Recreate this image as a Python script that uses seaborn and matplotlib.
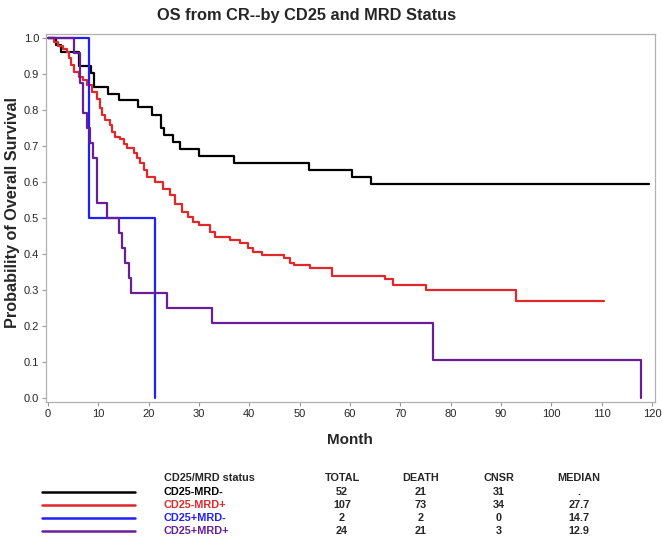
import matplotlib
matplotlib.use("Agg")
import matplotlib.pyplot as plt
from matplotlib.lines import Line2D
import numpy as np
import pandas as pd
import seaborn as sns


# Kaplan-Meier step points (month, survival)
GROUPS = ["CD25-MRD-", "CD25-MRD+", "CD25+MRD-", "CD25+MRD+"]
COLORS = ["#000000", "#e0282a", "#1f1fff", "#6a1d98"]

black_t = [0, 1.6, 2.6, 6.2, 8.5, 9.1, 11.9, 14.2, 17.9, 20.6, 22.4, 23.0,
           24.8, 26.2, 29.9, 37.0, 51.8, 60.4, 64.2, 119.5]
black_s = [1.0, .981, .962, .923, .904, .865, .846, .827, .808, .788, .750, .731,
           .712, .692, .673, .654, .635, .615, .594, .594]

red_t = [0, 1.1, 2.0, 3.0, 3.7, 4.2, 4.6, 5.2, 6.2, 7.0, 7.8, 8.7, 9.7, 10.3,
         10.7, 11.3, 12.3, 12.7, 13.3, 14.3, 15.0, 15.6, 17.0, 17.6, 18.3, 19.0,
         19.6, 21.3, 22.9, 24.3, 25.2, 26.6, 27.9, 28.9, 29.9, 32.2, 33.2, 36.2,
         38.2, 39.8, 40.8, 42.5, 46.8, 48.1, 48.8, 52.1, 56.4, 67.0, 68.5, 75.1,
         93.0, 110.4]
red_s = [1.0, .990, .980, .971, .962, .944, .925, .906, .893, .883, .870, .850,
         .830, .805, .786, .772, .758, .740, .726, .720, .707, .694, .680, .666,
         .652, .633, .615, .600, .582, .564, .540, .518, .504, .490, .480, .462,
         .448, .439, .430, .416, .406, .397, .388, .376, .370, .360, .340, .330,
         .314, .300, .269, .269]

blue_t = [0, 8.1, 21.3]
blue_s = [1.0, 0.5, 0.0]

purple_t = [0, 5.2, 6.4, 7.0, 7.8, 8.3, 9.0, 9.8, 11.8, 14.2, 14.7, 15.2, 16.0,
            16.4, 23.6, 32.5, 76.4, 117.8]
purple_s = [1.0, .958, .875, .792, .750, .708, .667, .542, .500, .458, .417,
            .375, .333, .292, .250, .208, .104, 0.0]

# summary table under the plot
TOTAL = ["52", "107", "2", "24"]
DEATH = ["21", "73", "2", "21"]
CNSR = ["31", "34", "0", "3"]
MEDIAN = [".", "27.7", "14.7", "12.9"]

XTICKS = list(range(0, 121, 10))
YTICKS = [round(v * 0.1, 1) for v in range(0, 11)]


frames = []
for name, t, s in zip(GROUPS, [black_t, red_t, blue_t, purple_t],
                      [black_s, red_s, blue_s, purple_s]):
    frames.append(pd.DataFrame({"month": t, "surv": s, "group": name}))
df = pd.concat(frames, ignore_index=True)

sns.set_style("white")
NARROW = ["Liberation Sans Narrow", "Liberation Sans", "DejaVu Sans"]
plt.rcParams["font.family"] = NARROW

W, H = 663, 539
fig = plt.figure(figsize=(6.63, 5.39), dpi=100)
ax = fig.add_axes([46 / W, 1 - 401.7 / H, (655 - 46) / W, (401.7 - 34) / H])

sns.lineplot(
    data=df, x="month", y="surv", hue="group", hue_order=GROUPS,
    palette=dict(zip(GROUPS, COLORS)), drawstyle="steps-post",
    estimator=None, sort=False, linewidth=1.6, legend=False, ax=ax,
)

ax.set_xlim(-0.4, 120.6)
ax.set_ylim(-0.011, 1.012)
ax.set_xticks(XTICKS)
ax.set_yticks(YTICKS)
ax.set_yticklabels([f"{v:.1f}" for v in YTICKS])
ax.tick_params(axis="both", labelsize=8, length=3, width=0.8,
               color="#999999", pad=2, bottom=True, left=True,
               labelfontfamily="Liberation Sans")
for sp in ax.spines.values():
    sp.set_color("#b0b0b0")
    sp.set_linewidth(0.9)
ax.set_xlabel("")
ax.set_ylabel("")

fig.text(0.462, 0.972, "OS from CR--by CD25 and MRD Status", ha="center",
         va="center", fontsize=11.8, fontweight="bold")
fig.text(0.019, 0.606, "Probability of Overall Survival", rotation=90,
         ha="center", va="center", fontsize=11.7, fontweight="bold")
fig.text(0.528, 1 - 440 / H, "Month", ha="center", va="center",
         fontsize=11, fontweight="bold")


# summary table
def fy(y):
    return 1 - y / H


header_y = 478
row_y = [492, 505, 518, 531]
cols = [342, 421, 499, 579]
fs = 7.8
fig.text(164 / W, fy(header_y), "CD25/MRD status", ha="left", va="center",
         fontsize=fs, fontweight="bold")
for x, lab in zip(cols, ["TOTAL", "DEATH", "CNSR", "MEDIAN"]):
    fig.text(x / W, fy(header_y), lab, ha="center", va="center",
             fontsize=fs, fontweight="bold")

for i, (name, col) in enumerate(zip(GROUPS, COLORS)):
    y = fy(row_y[i])
    fig.add_artist(Line2D([42 / W, 135 / W], [y, y], color=col, linewidth=1.8,
                          transform=fig.transFigure))
    fig.text(164 / W, y, name, ha="left", va="center", fontsize=fs,
             fontweight="bold", color=col)
    for x, vals in zip(cols, [TOTAL, DEATH, CNSR, MEDIAN]):
        fig.text(x / W, y, vals[i], ha="center", va="center", fontsize=fs,
                 fontweight="bold")

fig.savefig("out.png", dpi=100)
